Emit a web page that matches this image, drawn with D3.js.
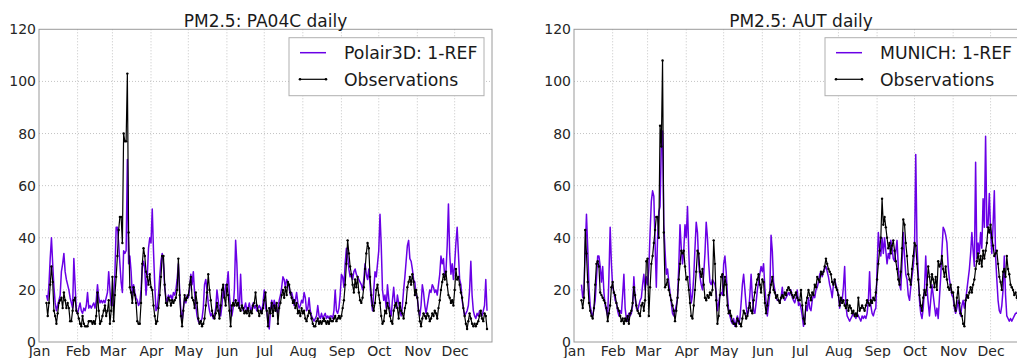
<!DOCTYPE html>
<html lang="en">
<head>
<meta charset="UTF-8">
<title>PM2.5 daily</title>
<script src="https://d3js.org/d3.v7.min.js"></script>
<style>
  body {
    margin: 0;
    background: #ffffff;
    font-family: "DejaVu Sans", sans-serif;
  }
  .axis text {
    fill: #262626;
    font-size: 14px;
    font-family: "DejaVu Sans", sans-serif;
  }
  .grid line {
    stroke: #c4c4c4;
    stroke-dasharray: 1,2;
  }
  .title {
    fill: #1a1a1a;
    font-size: 17px;
  }
  .legend-text {
    fill: #1a1a1a;
    font-size: 17.3px;
  }
</style>
</head>
<body>
<div id="chart"></div>
<script>
// daily series start on Jan 7 and run to Dec 27
const firstDay = "2013-01-07";
const months = ["Jan", "Feb", "Mar", "Apr", "May", "Jun", "Jul", "Aug", "Sep", "Oct", "Nov", "Dec"];
const yTicks = [0, 20, 40, 60, 80, 100, 120];

// PA04C station
const paModel = [
  18,16,22,32,40,30,21,15,12,14,16,18,27,30,34,27,24,22,20,17,15,13,32,22,12,
  11,13,15,12,11,13,12,14,19,13,14,13,14,15,13,16,22,17,15,16,15,16,15,17,19,27,20,14,
  14,18,26,44,44,38,30,23,19,35,34,35,70,30,33,27,18,22,19,17,16,14,15,20,29,31,28,18,25,36,40,
  38,51,35,22,12,13,18,25,31,34,30,21,17,15,18,17,18,16,19,18,20,24,30,20,12,8,13,17,15,18,
  17,20,26,22,27,19,14,10,8,7,8,9,13,22,24,20,15,12,10,11,9,10,13,20,16,12,10,14,20,17,22,
  22,27,18,12,10,13,20,39,30,16,13,26,15,12,13,15,12,13,15,12,13,15,13,14,12,13,14,13,11,15,
  20,13,12,8,5,12,16,13,16,14,12,11,16,18,21,25,24,21,24,23,21,18,19,17,14,16,19,15,13,14,16,
  15,19,17,12,13,17,12,10,9,8,9,10,14,10,9,11,9,10,11,9,10,9,10,10,9,12,20,12,11,13,18,
  26,25,21,30,36,33,28,25,26,24,27,28,26,25,24,23,22,20,24,30,26,24,28,22,16,12,20,27,25,30,
  35,49,37,20,16,18,13,22,17,12,10,16,21,15,13,18,15,12,10,14,20,25,31,37,39,32,31,28,24,23,18,
  17,12,10,14,22,19,14,11,14,17,20,19,22,21,19,20,18,22,26,33,30,32,25,27,37,53,34,26,30,24,
  30,38,44,34,24,22,16,13,10,11,12,14,20,31,18,12,10,9,11,10,12,11,10,12,14,24,12
];
const paObs = [
  15,10,15,22,29,23,12,10,7,11,15,16,17,13,19,16,13,15,13,8,8,12,16,17,12,
  11,9,7,6,10,7,6,6,6,8,8,8,7,8,7,10,19,12,7,8,10,12,14,10,12,16,7,12,
  25,8,18,25,33,43,48,48,38,80,77,77,103,42,21,19,15,21,18,15,8,7,7,15,30,36,33,27,25,22,26,
  21,20,14,10,7,8,13,18,25,33,33,22,15,14,17,16,14,16,15,16,17,20,32,18,10,6,12,18,16,17,
  18,22,25,17,16,13,19,15,9,7,8,6,7,9,14,19,26,20,16,12,10,9,11,15,12,9,14,20,22,17,14,
  22,18,12,6,14,15,14,16,14,15,13,12,14,13,11,12,11,13,10,12,11,14,15,19,14,12,10,12,11,13,
  16,19,12,6,13,11,15,10,14,12,15,7,13,15,18,20,17,21,18,23,22,19,17,15,16,13,15,11,12,10,13,
  11,12,9,8,10,12,11,9,7,6,6,8,9,7,8,7,8,9,8,7,8,7,9,8,8,9,10,8,9,10,9,
  10,13,16,22,30,39,34,29,26,22,19,24,21,25,19,16,15,17,21,28,34,38,36,25,18,14,12,15,20,22,
  18,15,10,7,8,12,11,15,13,10,8,7,12,14,15,13,9,15,12,11,9,13,15,21,23,25,22,26,23,18,20,
  17,12,8,6,9,11,10,9,11,10,8,9,11,10,12,11,9,13,16,20,23,26,24,27,22,18,17,15,16,14,
  20,28,24,25,22,19,17,13,10,7,5,8,11,9,7,6,7,6,7,8,10,12,9,8,11,10,5
];

// AUT station
const autModel = [
  22,17,20,35,49,36,21,14,11,10,13,16,24,33,33,29,23,29,19,14,12,10,25,44,30,
  21,19,16,15,12,10,12,11,18,26,13,9,8,11,10,11,14,25,17,13,12,14,16,17,22,26,20,25,
  22,28,42,54,58,56,38,21,40,50,52,75,81,45,35,26,28,23,19,15,11,10,12,14,17,29,45,36,30,35,45,
  40,52,35,22,15,18,25,36,46,42,30,25,22,20,26,34,46,40,30,23,22,24,23,22,19,12,15,18,19,18,
  30,33,27,18,12,10,8,7,9,6,8,10,7,9,15,22,26,20,14,10,12,18,26,17,12,11,15,20,23,26,29,
  27,30,21,15,10,14,19,41,35,23,20,17,16,16,15,17,21,17,16,17,18,19,18,20,17,16,15,17,20,14,
  15,13,10,6,9,14,12,17,13,12,16,18,17,20,21,23,26,27,25,27,28,29,27,25,22,20,17,22,24,22,20,
  18,13,17,16,21,29,14,10,9,8,9,10,11,10,9,11,10,9,8,10,9,10,9,11,16,27,14,11,10,12,13,
  28,42,36,33,40,34,40,35,30,34,32,39,36,32,31,35,39,29,22,20,30,42,33,26,24,18,16,21,25,29,
  35,72,38,26,16,11,9,13,20,33,21,15,10,16,22,18,14,10,13,9,17,25,35,44,43,41,38,29,24,21,18,
  17,13,11,13,16,12,10,14,16,13,16,20,24,28,34,42,35,29,69,32,38,34,42,36,55,44,79,44,45,57,
  43,34,45,58,33,24,16,12,11,14,20,33,18,10,9,8,9,8,9,10,11,11,12,11,12,13,12
];
const autObs = [
  16,13,17,43,34,23,15,12,10,9,13,22,30,31,29,19,18,17,16,15,13,8,11,14,21,
  23,19,18,15,13,12,10,8,9,7,9,8,10,7,11,12,15,21,18,14,12,11,10,14,15,12,16,31,
  32,10,21,30,33,38,43,48,48,40,83,75,108,42,21,22,24,20,18,16,14,12,8,12,17,24,30,35,34,35,29,
  24,25,20,15,10,9,14,20,27,35,34,27,25,28,22,17,16,18,17,19,18,20,39,30,16,7,10,18,25,26,
  18,25,22,14,11,12,10,8,7,7,6,9,8,7,6,9,12,11,9,10,13,15,12,11,16,19,22,24,26,22,19,
  24,23,15,11,14,18,19,22,25,20,19,17,18,16,15,17,18,17,19,18,20,21,20,19,18,17,18,19,17,16,
  16,20,14,9,7,15,17,20,18,16,19,18,22,21,25,24,23,27,26,27,29,32,30,28,27,26,23,22,24,21,20,
  18,14,17,15,16,14,13,16,12,14,13,11,12,10,11,10,17,12,13,14,13,12,14,16,15,14,16,15,17,16,19,
  24,30,35,40,55,45,48,44,40,36,38,34,37,39,35,31,28,24,22,27,36,47,45,38,33,26,24,22,28,33,
  38,37,30,24,18,14,12,17,20,18,22,29,25,21,26,24,21,25,20,31,29,30,33,28,25,29,24,21,20,22,19,
  19,14,12,17,21,15,11,10,7,6,16,18,17,19,21,19,22,24,28,31,34,30,33,29,35,32,35,38,44,42,
  45,40,37,33,34,35,30,25,23,20,27,28,25,33,28,26,22,21,20,18,19,17,16,18,15,17,16
];

const panels = [
  {title: "PM2.5: PA04C daily", modelName: "Polair3D: 1-REF", model: paModel, obs: paObs, left: 39, right: 492},
  {title: "PM2.5: AUT daily", modelName: "MUNICH: 1-REF", model: autModel, obs: autObs, left: 574, right: 1028}
];

const modelColor = "#6a00e6";
const W = 1017, H = 358;
const plotTop = 29.3, plotBottom = 342;

const svg = d3.select("#chart")
  .append("svg")
  .attr("width", W)
  .attr("height", H);

const parseDay = d3.utcParse("%Y-%m-%d");
const start = parseDay(firstDay);
const yearStart = parseDay("2013-01-01");
const yearEnd = parseDay("2013-12-31");
const monthStarts = d3.utcMonths(yearStart, parseDay("2014-01-01"));

panels.forEach(p => {
  const x = d3.scaleUtc().domain([yearStart, yearEnd]).range([p.left, p.right]);
  const y = d3.scaleLinear().domain([0, 120]).range([plotBottom, plotTop]);
  const g = svg.append("g");

  const days = p.obs.map((v, i) => d3.utcDay.offset(start, i));
  const modelPts = p.model.map((v, i) => ({date: days[i], value: v}));
  const obsPts = p.obs.map((v, i) => ({date: days[i], value: v}));

  // grid
  g.append("g").attr("class", "grid")
    .selectAll("line")
    .data(yTicks.slice(1, -1))
    .enter().append("line")
    .attr("x1", p.left).attr("x2", p.right)
    .attr("y1", d => y(d)).attr("y2", d => y(d));

  g.append("g").attr("class", "grid")
    .selectAll("line")
    .data(monthStarts.slice(1))
    .enter().append("line")
    .attr("x1", d => x(d)).attr("x2", d => x(d))
    .attr("y1", plotTop).attr("y2", plotBottom);

  const line = d3.line()
    .x(d => x(d.date))
    .y(d => y(d.value));

  g.append("path")
    .datum(modelPts)
    .attr("fill", "none")
    .attr("stroke", modelColor)
    .attr("stroke-width", 1.5)
    .attr("stroke-linejoin", "round")
    .attr("d", line);

  g.append("path")
    .datum(obsPts)
    .attr("fill", "none")
    .attr("stroke", "#000")
    .attr("stroke-width", 1.2)
    .attr("stroke-linejoin", "round")
    .attr("d", line);

  g.append("g")
    .selectAll("circle")
    .data(obsPts)
    .enter().append("circle")
    .attr("cx", d => x(d.date))
    .attr("cy", d => y(d.value))
    .attr("r", 1.2)
    .attr("fill", "#000");

  // frame
  g.append("rect")
    .attr("x", p.left).attr("y", plotTop)
    .attr("width", p.right - p.left).attr("height", plotBottom - plotTop)
    .attr("fill", "none")
    .attr("stroke", "#9a9a9a")
    .attr("stroke-width", 1);

  g.append("g")
    .attr("class", "axis")
    .attr("transform", "translate(" + p.left + ",0)")
    .call(d3.axisLeft(y).tickValues(yTicks).tickSize(0).tickPadding(3))
    .call(a => a.select(".domain").remove());

  g.append("g")
    .attr("class", "axis")
    .attr("transform", "translate(0," + plotBottom + ")")
    .call(d3.axisBottom(x).tickValues(monthStarts).tickFormat((d, i) => months[i]).tickSize(0).tickPadding(4))
    .call(a => a.select(".domain").remove());

  g.append("text")
    .attr("class", "title")
    .attr("x", (p.left + p.right) / 2)
    .attr("y", 27)
    .attr("text-anchor", "middle")
    .text(p.title);

  // legend
  const lx = p.right - 203;
  const legend = g.append("g");
  legend.append("rect")
    .attr("x", lx).attr("y", 37.7)
    .attr("width", 195).attr("height", 58)
    .attr("fill", "#fff")
    .attr("stroke", "#b0b0b0");

  const entries = [
    {name: p.modelName, color: modelColor, y: 52.7, marker: false},
    {name: "Observations", color: "#000", y: 79.3, marker: true}
  ];
  entries.forEach(e => {
    legend.append("line")
      .attr("x1", lx + 11).attr("x2", lx + 37)
      .attr("y1", e.y).attr("y2", e.y)
      .attr("stroke", e.color)
      .attr("stroke-width", e.marker ? 1.2 : 1.5);
    if (e.marker) {
      [lx + 11, lx + 37].forEach(cx => {
        legend.append("circle").attr("cx", cx).attr("cy", e.y).attr("r", 1.3).attr("fill", "#000");
      });
    }
    legend.append("text")
      .attr("class", "legend-text")
      .attr("x", lx + 55)
      .attr("y", e.y + 6.4)
      .text(e.name);
  });
});
</script>
</body>
</html>
